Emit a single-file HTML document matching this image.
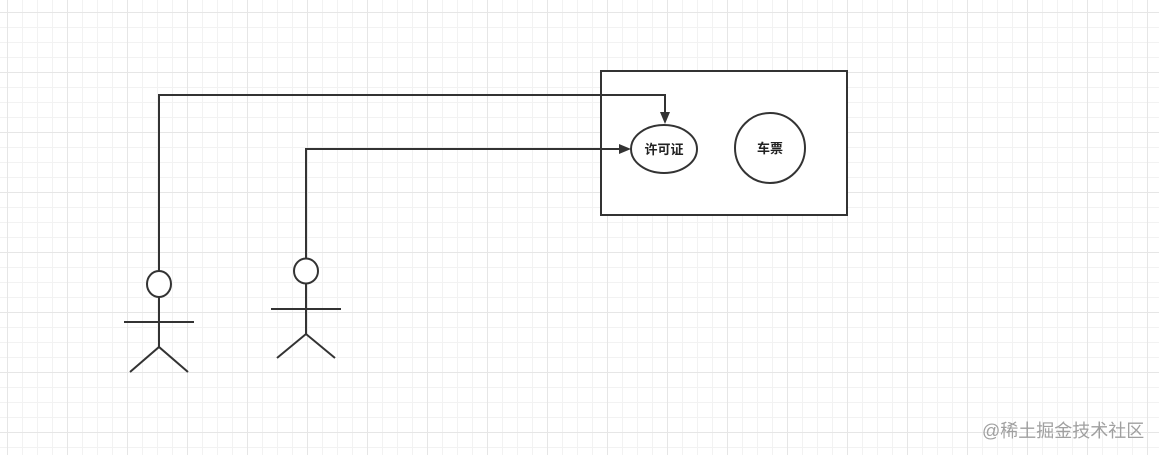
<!DOCTYPE html>
<html><head><meta charset="utf-8"><style>
html,body{margin:0;padding:0;}
body{width:1159px;height:455px;overflow:hidden;background:#fff;
background-image:
linear-gradient(to right,#e6e6e6 1px,transparent 1px),
linear-gradient(to bottom,#e6e6e6 1px,transparent 1px),
linear-gradient(to right,#f2f2f2 1px,transparent 1px),
linear-gradient(to bottom,#f2f2f2 1px,transparent 1px);
background-size:60px 60px,60px 60px,15px 15px,15px 15px;
background-position:7px 12px,7px 12px,7px 12px,7px 12px;}
svg{position:absolute;left:0;top:0;}
.wm{position:absolute;left:982px;top:417px;font:18px "Liberation Sans","Noto Sans CJK SC",sans-serif;color:#a0a0a0;}
</style></head><body>
<svg width="1159" height="455" xmlns="http://www.w3.org/2000/svg">
<g stroke="#333" stroke-width="2" fill="none">
<rect x="601" y="71" width="246" height="144" fill="#fff"/>
<ellipse cx="664" cy="149" rx="33" ry="24" fill="#fff"/>
<circle cx="770" cy="148" r="35" fill="#fff"/>
<polyline points="159,271 159,95 665,95 665,113"/>
<polyline points="306,258 306,149 619,149"/>
<ellipse cx="159" cy="284" rx="12" ry="13" fill="#fff"/>
<line x1="159" y1="297" x2="159" y2="347"/>
<line x1="124" y1="322" x2="194" y2="322"/>
<polyline points="130,372 159,347 188,372"/>
<ellipse cx="306" cy="271" rx="12" ry="12.5" fill="#fff"/>
<line x1="306" y1="284" x2="306" y2="334"/>
<line x1="271" y1="309" x2="341" y2="309"/>
<polyline points="277,358 306,334 335,358"/>
</g>
<polygon points="660,112 670,112 665,124" fill="#333"/>
<polygon points="619,144 619,154 631,149" fill="#333"/>
<g font-family="'Liberation Sans','Noto Sans CJK SC',sans-serif" font-size="13" font-weight="bold" fill="#222" text-anchor="middle">
<text x="664" y="154">许可证</text>
<text x="770" y="153">车票</text>
</g>
</svg>
<div class="wm">@稀土掘金技术社区</div>
</body></html>
